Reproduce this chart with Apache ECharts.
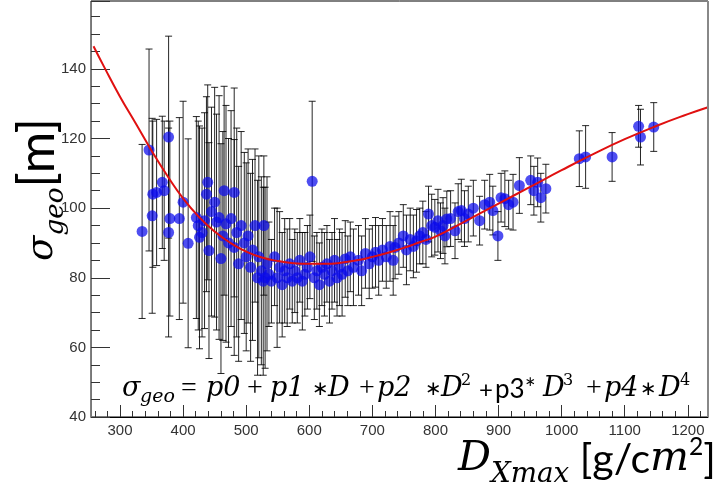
<!DOCTYPE html>
<html><head><meta charset="utf-8">
<script src="https://cdn.jsdelivr.net/npm/echarts@6/dist/echarts.min.js"></script>
<style>html,body{margin:0;padding:0;background:#fff}#c{width:721px;height:491px}</style>
</head><body><div id="c"></div>
<script>
// ---- data ----
const xLabels = [300,400,500,600,700,800,900,1000,1100,1200];
const yLabels = [40,60,80,100,120,140];
const dX = [335,346,352,351,358,367,370,377,377,379,394,400,408,421,424,426,430,434,437,439,441,445,450,453,457,460,463,465,468,472,476,481,481,485,488,492,497,500,503,507,510,514,518,520,524,527,528,530,533,536,540,545,549,553,557,561,565,569,573,577,581,585,589,593,597,601,604.6,608,612,616,620,624,628,632,636,640,644,648,652,657,661,665,670,678,683,689,695,700,705,710,716,722,728,733,736,742,749,754,760,765,770,775,780,785,789,794,799,804,808,812,815,818,824,831,836,841,846,852,860,870,878,886,891,899,904,910,916,923,933,951,956,962,967,975,1028,1038,1080,1122,1125,1146];
const dY = [93.3,116.7,104,97.8,104.5,107.4,105,120.4,93,97,97,101.7,89.9,97.3,95,91.6,93,96.4,104,107.4,87.8,99,101.7,96,97.3,85.5,92,105,95.5,90,97,104.5,88.7,93,84,95,90,86,92,83,88,95,80,86,82,79,95,80,84,81,79,86,80,83,78,82,80,84,79,82,80,85,79,81,83,86,107.7,80,82,78,83,81,84,79,82,85,80,83,81,85.4,82,86,83,85,82,87,84,86,87.3,85,88,86,89,85,88.7,90,92,88,91,89,90.6,92,93,91,98.3,95,94.5,96.4,93.5,95,92,96.9,97,93.5,99,99.3,97,98.3,100,96.4,101,101.7,99.3,92,103,102.7,101,101.7,106.5,108,105,107.4,103,105.6,114.2,114.7,114.7,123.5,120.4,123.3];
const dE = [25,29,21,28,21,19,20,29,30,28,29,29,30,29,30,32,30,31,28,28,31,30,33,31,35,33,30,30,34,30,31,30,31,30,28,27,26,27,25,27,26,22,28,29,27,27,20,26,25,15,12,14,20,16,15,15,14,13,12,12,13,12,14,12,12,12,23,12,11,12,11,12,11,12,11,12,11,11,12,11,10,10,11,10,10,10,10,9,10,10,9,9,10,10,9,9,9,10,9,9,9,8,9,8,8,9,8,9,8,8,8,8,8,8,8,9,8,8,8,7,7,8,7,7,7,8,7,8,8,7,7,7,7,7,8,9,7,6,8,7];
const fitX = [258,275,300,325,350,375,400,425,450,475,500,525,550,575,600,625,650,675,700,725,750,775,800,850,900,950,1000,1050,1100,1150,1200,1232];
const fitY = [146.5,140.5,132,124.3,116.5,109.3,102.8,97.5,93.3,90,87.5,85.8,84.8,84.2,84,84,84.3,85,86,87.2,88.6,90.2,91.8,96.5,101.3,106.1,110.9,115.5,119.8,123.6,127,129];
const xMinor = []; for (let v = 260; v <= 1230; v += 20) xMinor.push(v);
const yMinor = []; for (let v = 45; v <= 155; v += 5) yMinor.push(v);

const X0 = 254, X1 = 1232, Y0 = 40, Y1 = 159.5;

// ---- text helpers ----
const mctx = document.createElement('canvas').getContext('2d');
function fontStr(p, s){ return (p.it ? 'italic ' : '') + (s) + 'px ' + p.fam; }
function textEl(p, x, s, dy){
  return {type:'text', x: x, y: dy - 0.3*s,
    style:{text:p.t, font:fontStr(p, s), fill:'#000', align:'left', verticalAlign:'middle'}};
}
function layout(pieces, length){
  let w = 0;
  pieces.forEach(p => { mctx.font = fontStr(p, p.s); w += mctx.measureText(p.t).width; });
  const k = length / w;
  let x = 0; const out = [];
  pieces.forEach(p => {
    const s = p.s * k;
    mctx.font = fontStr(p, s);
    out.push(textEl(p, x, s, (p.dy||0)*k));
    x += mctx.measureText(p.t).width;
  });
  return out;
}
function placed(pieces){ return pieces.map(p => textEl(p, p.x, p.s, p.dy||0)); }

const SER = '"DejaVu Serif"', TSER = '"Liberation Serif"', SAN = 'Lato', DSAN = '"DejaVu Sans"';
const formula = [
  {t:'σ', x:122, it:1, fam:SER, s:27},
  {t:'geo', x:140, it:1, fam:SER, s:19, dy:6},
  {t:'=', x:181, fam:TSER, s:28},
  {t:'p0', x:206, it:1, fam:SER, s:27},
  {t:'+', x:247, fam:TSER, s:28},
  {t:'p1', x:270, it:1, fam:SER, s:27},
  {t:'∗', x:312, fam:DSAN, s:20, dy:-1},
  {t:'D', x:328, it:1, fam:SER, s:27},
  {t:'+', x:359, fam:TSER, s:28},
  {t:'p2', x:377, it:1, fam:SER, s:27},
  {t:'∗', x:425, fam:DSAN, s:20, dy:-1},
  {t:'D', x:441, it:1, fam:SER, s:27},
  {t:'2', x:461, fam:SER, s:16, dy:-11},
  {t:'+', x:479, fam:SAN, s:24},
  {t:'p3*', x:495, fam:SAN, s:26},
  {t:'D', x:543, it:1, fam:SER, s:27},
  {t:'3', x:563, fam:SER, s:16, dy:-11},
  {t:'+', x:586, fam:TSER, s:28},
  {t:'p4', x:604, it:1, fam:SER, s:27},
  {t:'∗', x:640, fam:DSAN, s:20, dy:-1},
  {t:'D', x:659, it:1, fam:SER, s:27},
  {t:'4', x:680, fam:SER, s:16, dy:-11}
];
const xTitle = [
  {t:'D', it:1, fam:SER, s:40},
  {t:'Xmax', it:1, fam:SER, s:27, dy:11},
  {t:' [g/c', fam:SAN, s:40},
  {t:'m', it:1, fam:SER, s:40},
  {t:'2', fam:SAN, s:24, dy:-17},
  {t:']', fam:SAN, s:40}
];
const yTitle = [
  {t:'σ', it:1, fam:SER, s:34},
  {t:'geo', it:1, fam:SER, s:24, dy:10},
  {t:'[m]', fam:SAN, s:46}
];

const chart = echarts.init(document.getElementById('c'), null, {renderer:'canvas'});
const errData = dX.map((x,i)=>[x, dY[i], dE[i]]);
const ptData = dX.map((x,i)=>[x, dY[i]]);
const fitData = fitX.map((x,i)=>[x, fitY[i]]);

const tickStyle = {color:'#333', width:1};
chart.setOption({
  animation:false,
  grid:{left:91, top:1, right:13, bottom:74, show:true, borderColor:'#000', borderWidth:1},
  xAxis:[
    {type:'value', min:X0, max:X1, position:'bottom',
     axisLine:{show:true, onZero:false, lineStyle:{color:'#000', width:1}},
     axisTick:{show:true, inside:true, length:12, customValues:xLabels, lineStyle:tickStyle},
     axisLabel:{show:true, customValues:xLabels, margin:6, color:'#333', fontSize:15, fontFamily:'"Liberation Sans", Arial',
       formatter: v => String(v)},
     splitLine:{show:false}},
    {type:'value', min:X0, max:X1, position:'bottom', gridIndex:0,
     axisLine:{show:false, onZero:false},
     axisTick:{show:true, inside:true, length:6, customValues:xMinor, lineStyle:tickStyle},
     axisLabel:{show:false}, splitLine:{show:false}}
  ],
  yAxis:[
    {type:'value', min:Y0, max:Y1, interval:20, position:'left',
     axisLine:{show:true, onZero:false, lineStyle:{color:'#777', width:1}},
     axisTick:{show:true, inside:true, length:19, lineStyle:tickStyle},
     axisLabel:{show:true, margin:5, color:'#333', fontSize:15, fontFamily:'"Liberation Sans", Arial',
       formatter: v => yLabels.indexOf(v) >= 0 ? String(v) : ''},
     splitLine:{show:false}},
    {type:'value', min:Y0, max:Y1, position:'left',
     axisLine:{show:false, onZero:false},
     axisTick:{show:true, inside:true, length:9, customValues:yMinor, lineStyle:tickStyle},
     axisLabel:{show:false}, splitLine:{show:false}}
  ],
  series:[
    {type:'custom', xAxisIndex:0, yAxisIndex:0, data:errData, z:2, silent:true,
     encode:{x:0, y:1},
     renderItem:function(params, api){
       const x=api.value(0), y=api.value(1), e=api.value(2);
       const t=api.coord([x, y+e]), b=api.coord([x, y-e]);
       const w=3.5, st={stroke:'rgba(0,0,0,0.85)', lineWidth:1};
       return {type:'group', children:[
         {type:'line', shape:{x1:t[0],y1:t[1],x2:b[0],y2:b[1]}, style:st},
         {type:'line', shape:{x1:t[0]-w,y1:t[1],x2:t[0]+w,y2:t[1]}, style:st},
         {type:'line', shape:{x1:b[0]-w,y1:b[1],x2:b[0]+w,y2:b[1]}, style:st}
       ]};
     }},
    {type:'scatter', xAxisIndex:0, yAxisIndex:0, data:ptData, symbol:'circle', symbolSize:11, z:3,
     itemStyle:{color:'rgba(10,10,235,0.9)'}},
    {type:'line', xAxisIndex:0, yAxisIndex:0, data:fitData, smooth:true, showSymbol:false, z:4,
     lineStyle:{color:'#e01010', width:2}}
  ],
  graphic:[
    {type:'line', shape:{x1:708,y1:1,x2:708,y2:417}, style:{stroke:'#888', lineWidth:2}, z:10},
    {type:'group', x:0, y:397, children: placed(formula), z:10},
    {type:'group', x:458, y:472, children: layout(xTitle, 258), z:10},
    {type:'group', x:53, y:261, rotation:Math.PI/2, children: layout(yTitle, 143), z:10}
  ]
});
</script></body></html>
